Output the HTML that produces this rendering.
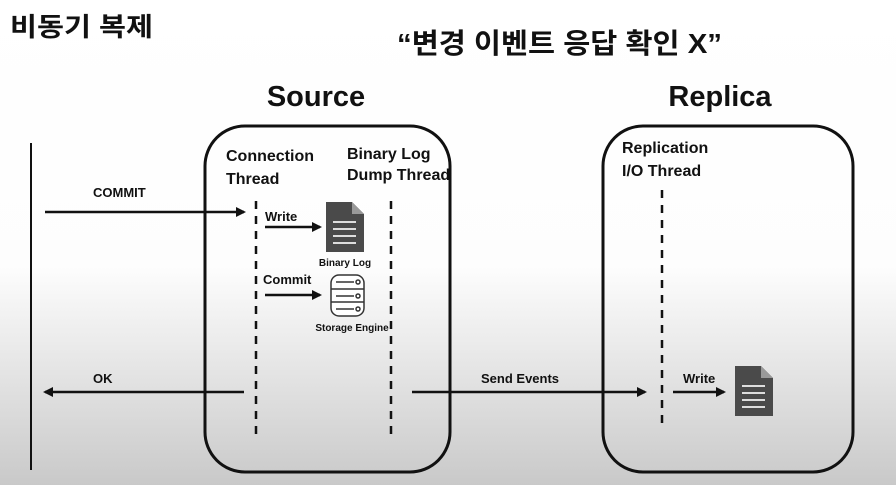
<!DOCTYPE html>
<html><head><meta charset="utf-8"><style>
html,body{margin:0;padding:0;width:896px;height:485px;overflow:hidden}
svg{display:block}
text{font-family:"Liberation Sans","Noto Sans CJK KR",sans-serif;font-weight:bold;fill:#111}
</style></head><body>
<svg width="896" height="485" viewBox="0 0 896 485" xmlns="http://www.w3.org/2000/svg">
<defs>
<linearGradient id="bg" x1="0" y1="0" x2="0" y2="1">
<stop offset="0" stop-color="#fff"/><stop offset="0.55" stop-color="#fdfdfd"/><stop offset="0.7" stop-color="#ececec"/><stop offset="1" stop-color="#c9c9c9"/>
</linearGradient>
<marker id="ah" markerWidth="10" markerHeight="10" refX="8" refY="5" orient="auto" markerUnits="userSpaceOnUse">
<path d="M0,0 L10,5 L0,10 Z" fill="#111"/></marker>
</defs>
<rect width="896" height="485" fill="url(#bg)"/>
<text x="10" y="36" font-size="26" textLength="143" lengthAdjust="spacingAndGlyphs">비동기 복제</text>
<text x="397" y="53" font-size="28" textLength="325" lengthAdjust="spacingAndGlyphs">“변경 이벤트 응답 확인 X”</text>
<text x="316" y="106" font-size="29" text-anchor="middle">Source</text>
<text x="720" y="106" font-size="29" text-anchor="middle">Replica</text>
<rect x="205" y="126" width="245" height="346" rx="40" fill="none" stroke="#111" stroke-width="3"/>
<rect x="603" y="126" width="250" height="346" rx="40" fill="none" stroke="#111" stroke-width="3"/>
<line x1="31" y1="143" x2="31" y2="470" stroke="#111" stroke-width="2"/>
<text x="226" y="161" font-size="16">Connection</text>
<text x="226" y="184" font-size="16">Thread</text>
<text x="347" y="159" font-size="16">Binary Log</text>
<text x="347" y="180" font-size="16">Dump Thread</text>
<text x="622" y="153" font-size="16">Replication</text>
<text x="622" y="176" font-size="16">I/O Thread</text>
<g stroke="#111" stroke-width="2.5" stroke-dasharray="8,7">
<line x1="256" y1="201" x2="256" y2="438"/>
<line x1="391" y1="201" x2="391" y2="438"/>
<line x1="662" y1="190" x2="662" y2="428"/>
</g>
<g stroke="#111" stroke-width="2.5" marker-end="url(#ah)">
<line x1="45" y1="212" x2="244" y2="212"/>
<line x1="244" y1="392" x2="45" y2="392"/>
<line x1="412" y1="392" x2="645" y2="392"/>
<line x1="673" y1="392" x2="724" y2="392"/>
<line x1="265" y1="227" x2="320" y2="227"/>
<line x1="265" y1="295" x2="320" y2="295"/>
</g>
<text x="93" y="197" font-size="13">COMMIT</text>
<text x="93" y="383" font-size="13">OK</text>
<text x="481" y="383" font-size="13">Send Events</text>
<text x="683" y="383" font-size="13">Write</text>
<text x="265" y="221" font-size="13">Write</text>
<text x="263" y="284" font-size="13">Commit</text>
<text x="345" y="266" font-size="10" text-anchor="middle">Binary Log</text>
<text x="352" y="331" font-size="10" text-anchor="middle">Storage Engine</text>
<g fill="#4a4a4a">
<path d="M326,202 H352 L364,214 V252 H326 Z"/>
<path d="M735,366 H761 L773,378 V416 H735 Z"/>
</g>
<path d="M352,202 V214 H364 Z" fill="#999"/>
<path d="M761,366 V378 H773 Z" fill="#999"/>
<g stroke="#ddd" stroke-width="2">
<line x1="333" y1="222" x2="356" y2="222"/><line x1="333" y1="229" x2="356" y2="229"/><line x1="333" y1="236" x2="356" y2="236"/><line x1="333" y1="243" x2="356" y2="243"/>
<line x1="742" y1="386" x2="765" y2="386"/><line x1="742" y1="393" x2="765" y2="393"/><line x1="742" y1="400" x2="765" y2="400"/><line x1="742" y1="407" x2="765" y2="407"/>
</g>
<g fill="#fff" stroke="#333" stroke-width="1.5">
<rect x="331" y="275" width="33" height="41" rx="8"/>
<line x1="331" y1="289" x2="364" y2="289"/><line x1="331" y1="302" x2="364" y2="302"/>
<line x1="336" y1="282" x2="354" y2="282"/><line x1="336" y1="296" x2="354" y2="296"/><line x1="336" y1="309" x2="354" y2="309"/>
<circle cx="358" cy="282" r="2"/><circle cx="358" cy="296" r="2"/><circle cx="358" cy="309" r="2"/>
</g>
</svg>
</body></html>
